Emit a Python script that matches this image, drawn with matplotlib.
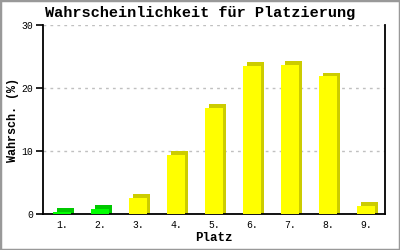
import matplotlib
matplotlib.use('Agg')
import matplotlib.pyplot as plt
import matplotlib.transforms as mtransforms
from matplotlib.patches import Rectangle

# data
places = ['1.', '2.', '3.', '4.', '5.', '6.', '7.', '8.', '9.']
probs = [0.35, 0.8, 2.6, 9.4, 16.9, 23.5, 23.7, 21.9, 1.3]
front_colors = ['#00ff00', '#00ff00'] + ['#ffff00'] * 7
side_colors = ['#00c800', '#00c800'] + ['#cccc00'] * 7

title = 'Wahrscheinlichkeit für Platzierung'
xlabel = 'Platz'
ylabel = 'Wahrsch. (%)'
yticks = [0, 10, 20, 30]

plt.rcParams['font.family'] = ['Liberation Mono', 'DejaVu Sans Mono']

fig = plt.figure(figsize=(4, 2.5), dpi=100)
ax = fig.add_axes([43 / 400, 36 / 250, 342 / 400, 189 / 250])

x = list(range(len(places)))
# darker copy shifted right/up gives the 3d side and top;
# it starts below zero so the clipped side still reaches the baseline
shift = ax.transData + mtransforms.ScaledTranslation(3.5 / 100, 3.5 / 100,
                                                     fig.dpi_scale_trans)
ax.bar(x, [p + 2 for p in probs], bottom=-2, width=0.45, color=side_colors,
       transform=shift, zorder=2)
ax.bar(x, probs, width=0.45, color=front_colors, zorder=3)

ax.set_xlim(-0.5, len(places) - 0.5)
ax.set_ylim(0, 30)
ax.set_xticks(x)
ax.set_xticklabels(places, fontsize=7)
ax.set_yticks(yticks)
ax.set_yticklabels([str(t) for t in yticks], fontsize=7)
ax.tick_params(axis='x', length=0, pad=4)
ax.tick_params(axis='y', length=5, width=1.2, pad=2)

ax.grid(axis='y', color='#c0c0c0', linestyle=(0, (2, 3)), linewidth=1)
ax.set_axisbelow(True)
ax.spines['top'].set_visible(False)
for s in ['left', 'bottom', 'right']:
    ax.spines[s].set_linewidth(1.3)

ax.set_xlabel(xlabel, fontsize=9, fontweight='bold', labelpad=2)
ax.set_ylabel(ylabel, fontsize=8.5, fontweight='bold', labelpad=2)
fig.text(0.5, 1 - 13 / 250, title, ha='center', va='center', fontsize=11,
         fontweight='bold')

# grey frame around the whole picture
fig.patches.append(Rectangle((0, 0), 1, 1, transform=fig.transFigure,
                             fill=False, edgecolor='#999999', linewidth=2.5))

fig.savefig('out.png', dpi=100)
